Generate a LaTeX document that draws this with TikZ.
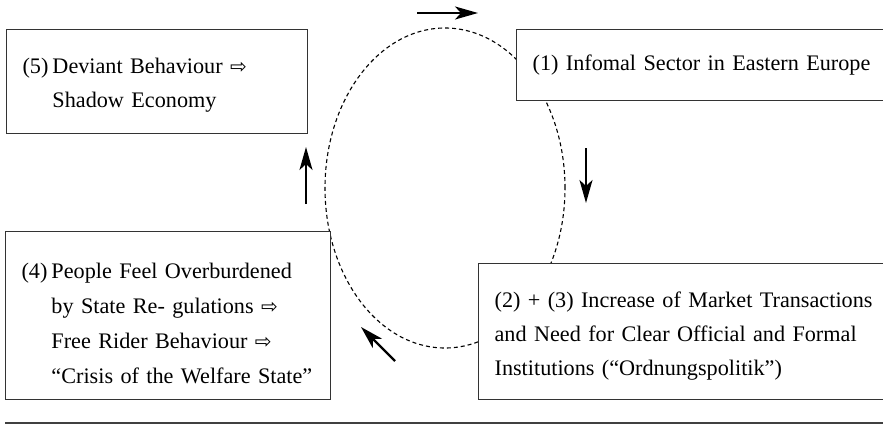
\documentclass[tikz,border=0pt]{standalone}
\usepackage{fontspec}
\setmainfont{Liberation Serif}
\newfontfamily\symfont{DejaVu Sans}
\usetikzlibrary{arrows.meta}
\newcommand{\Then}{{\symfont\fontsize{20}{20}\selectfont ⇨}}

\begin{document}
\begin{tikzpicture}[x=1pt, y=-1pt, font=\fontsize{22.2}{34}\selectfont,
   box/.style={draw=black!80, line width=1.2pt, fill=white, anchor=north west,
               inner xsep=16pt, inner ysep=0pt, align=left},
   flow/.style={line width=2.2pt, -{Stealth[length=23pt, width=13pt, inset=6pt]}}]

   \useasboundingbox (0,0) rectangle (883,425);

   % the dashed cycle behind the boxes
   \draw[dash pattern=on 4pt off 3pt, line width=1.1pt] (445,188) ellipse [x radius=120pt, y radius=160pt];

   % boxes
   \node[box, text width=269pt, minimum height=104pt] (shadow) at (6,29)
      {\raisebox{-2pt}[\height][\depth]{\begin{tabular}{@{}l@{\hspace{4pt}}l@{}}(5) & Deviant Behaviour \Then\\ & Shadow Economy\end{tabular}}};

   \node[box, text width=348pt, minimum height=71pt] (informal) at (516,29)
      {(1) Infomal Sector in Eastern Europe};

   \node[box, text width=293pt, minimum height=168pt] (burden) at (5,231)
      {\raisebox{-9pt}[\height][\depth]{\begin{tabular}{@{}l@{\hspace{4pt}}l@{}}(4) & People Feel Overburdened\\[1pt]
        & by State Re- gulations \Then\\[1pt]
        & Free Rider Behaviour \Then\\[1pt]
        & “Crisis of the Welfare State”\end{tabular}}};

   \node[box, text width=388pt, minimum height=136pt] (market) at (478,263)
      {\raisebox{-3pt}[\height][\depth]{\begin{tabular}{@{}l@{}}(2) + (3) Increase of Market Transactions\\
       and Need for Clear Official and Formal\\
       Institutions (“Ordnungspolitik”)\end{tabular}}};

   % direction arrows
   \coordinate (topA) at (417,13);  \coordinate (topB) at (478,13);
   \coordinate (rgtA) at (586,148); \coordinate (rgtB) at (586,203);
   \coordinate (botA) at (395,361); \coordinate (botB) at (361,327);
   \coordinate (lftA) at (306,204); \coordinate (lftB) at (306,147);

   \draw[flow] (topA) -- (topB);
   \draw[flow] (rgtA) -- (rgtB);
   \draw[flow] (botA) -- (botB);
   \draw[flow] (lftA) -- (lftB);

   % rule below
   \coordinate (ruleL) at (5,423); \coordinate (ruleR) at (883,423);
   \draw[line width=1.5pt, black!75] (ruleL) -- (ruleR);
\end{tikzpicture}
\end{document}
